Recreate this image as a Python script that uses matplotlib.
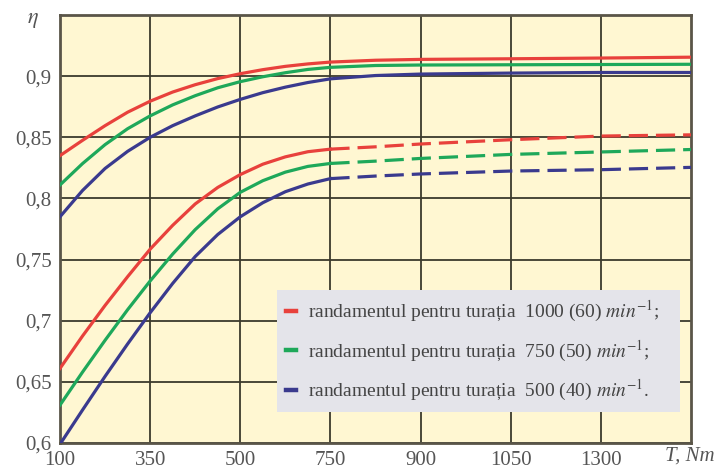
import numpy as np
import matplotlib
matplotlib.use("Agg")
import matplotlib.pyplot as plt

# x positions on the chart (ticks evenly spaced, labels are torque values)
tick_labels = ["100", "350", "500", "750", "900", "1050", "1300"]
y_ticks = [0.6, 0.65, 0.7, 0.75, 0.8, 0.85, 0.9]

x_pts = [0, 0.25, 0.5, 0.75, 1, 1.25, 1.5, 1.75, 2, 2.25, 2.5, 2.75, 3, 3.5, 4, 5, 6, 7]

# upper (solid) curves
up_1000 = [0.835, 0.8475, 0.8595, 0.8705, 0.8795, 0.887, 0.893, 0.898, 0.902, 0.9053,
           0.908, 0.910, 0.9115, 0.913, 0.9137, 0.9142, 0.9148, 0.9155]
up_750 = [0.811, 0.8285, 0.844, 0.857, 0.8675, 0.8765, 0.884, 0.8905, 0.8955, 0.8995,
          0.9028, 0.9055, 0.9072, 0.9087, 0.9091, 0.9093, 0.9095, 0.9097]
up_500 = [0.785, 0.8065, 0.8245, 0.8385, 0.850, 0.8595, 0.8675, 0.8748, 0.881, 0.8865,
          0.891, 0.8948, 0.8978, 0.9005, 0.9017, 0.9025, 0.903, 0.903]

# lower curves (solid up to 750, dashed afterwards)
lo_1000 = [0.661, 0.6875, 0.7125, 0.736, 0.7585, 0.778, 0.7955, 0.809, 0.8195, 0.828,
           0.834, 0.8382, 0.8403, 0.8422, 0.8445, 0.848, 0.851, 0.852]
lo_750 = [0.631, 0.658, 0.684, 0.709, 0.7325, 0.7545, 0.7745, 0.7915, 0.805, 0.8145,
          0.8215, 0.8262, 0.8286, 0.8305, 0.8327, 0.836, 0.838, 0.840]
lo_500 = [0.599, 0.627, 0.6545, 0.681, 0.7065, 0.7305, 0.7525, 0.7705, 0.785, 0.7965,
          0.8055, 0.8118, 0.8162, 0.8183, 0.820, 0.8224, 0.8235, 0.8254]

labels = [
    r"randamentul pentru turația  1000 (60) $\mathit{min}^{-1}$;",
    r"randamentul pentru turația  750 (50) $\mathit{min}^{-1}$;",
    r"randamentul pentru turația  500 (40) $\mathit{min}^{-1}$.",
]
colors = ["#e8413c", "#1ea85a", "#3a3a8e"]

plt.rcParams["font.family"] = "Liberation Serif"
plt.rcParams["mathtext.fontset"] = "stix"

fig = plt.figure(figsize=(7.21, 4.69), dpi=100)
ax = fig.add_axes([60 / 721, 26 / 469, 631 / 721, 428 / 469])
ax.set_facecolor("#fff7d2")

x = np.array(x_pts)
split = x_pts.index(3)
for up, lo, c, lab in zip([up_1000, up_750, up_500], [lo_1000, lo_750, lo_500], colors, labels):
    ax.plot(x, up, color=c, lw=2.3, label=lab, zorder=3)
    ax.plot(x[:split + 1], lo[:split + 1], color=c, lw=2.3, zorder=3)
    ax.plot(x[split:], lo[split:], color=c, lw=2.3, dashes=(6, 2.5), zorder=3)

ax.set_xlim(0, 7)
ax.set_ylim(0.6, 0.95)
ax.set_xticks(range(len(tick_labels)))
ax.set_xticklabels(tick_labels)
ax.set_yticks(y_ticks)
ax.set_yticklabels([f"{v:g}".replace(".", ",") for v in y_ticks])
ax.tick_params(length=0, labelsize=15, labelcolor="#555555", pad=6)
ax.grid(True, color="#3c3a2c", lw=1.3)
ax.set_axisbelow(True)
for s in ax.spines.values():
    s.set_color("#5a5548")
    s.set_linewidth(2)

fig.text(33 / 721, 1 - 20 / 469, r"$\eta$", fontsize=16, color="#555555", ha="center", va="center")
fig.text(690 / 721, 1 - 456 / 469, "T, Nm", fontsize=15, style="italic", color="#555555",
         ha="center", va="center")

leg = ax.legend(loc="lower left", bbox_to_anchor=((277 - 60) / 631, (443 - 412) / 428, (680 - 277) / 631, 120 / 428),
                mode="expand", borderaxespad=0, fontsize=14, handlelength=0.55, handletextpad=0.6,
                labelspacing=0.75, borderpad=0.45, frameon=True, fancybox=False,
                labelcolor="#444444")
leg.get_frame().set_facecolor("#e4e4ea")
leg.get_frame().set_edgecolor("none")
leg.get_frame().set_alpha(1)
for h in leg.get_lines():
    h.set_linewidth(3.2)

fig.savefig("out.png", dpi=100)
